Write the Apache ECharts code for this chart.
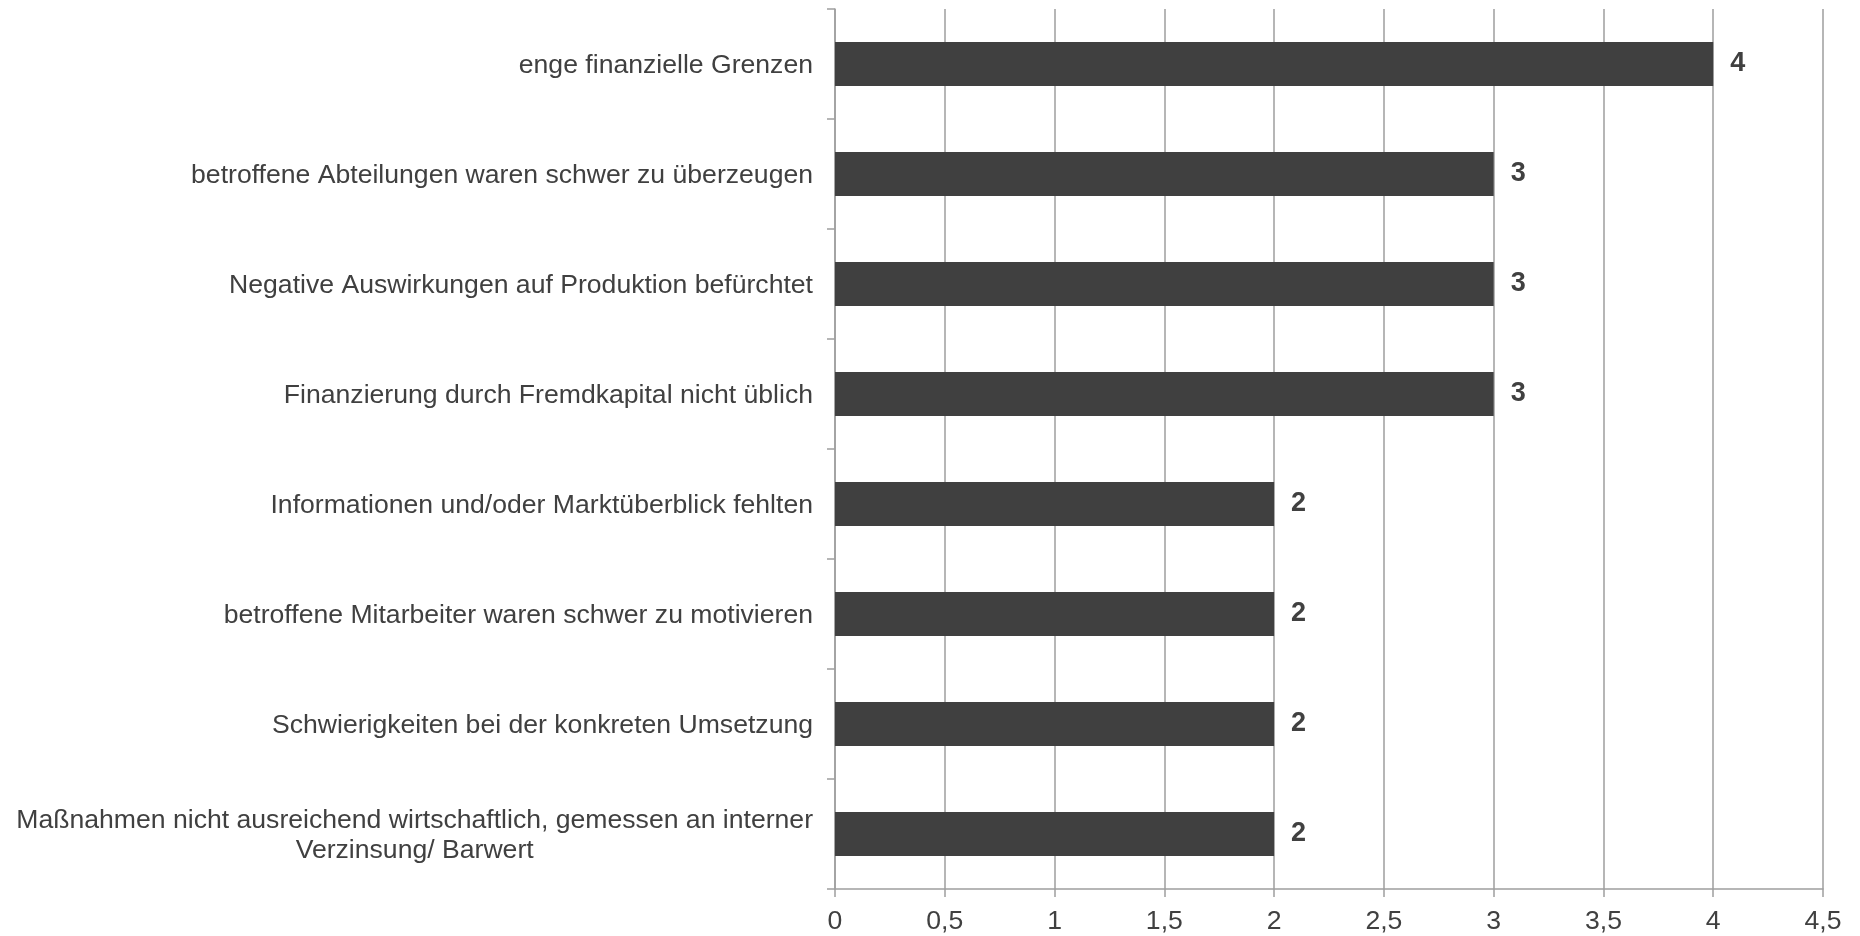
<!DOCTYPE html>
<html>
<head>
<meta charset="utf-8">
<script src="https://cdn.jsdelivr.net/npm/echarts@6/dist/echarts.min.js"></script>
<style>
html,body{margin:0;padding:0;background:#fff;}
#chart{width:1860px;height:936px;}
</style>
</head>
<body>
<div id="chart"></div>
<script>
const categories = [
  "enge finanzielle Grenzen",
  "betroffene Abteilungen waren schwer zu überzeugen",
  "Negative Auswirkungen auf Produktion befürchtet",
  "Finanzierung durch Fremdkapital nicht üblich",
  "Informationen und/oder Marktüberblick fehlten",
  "betroffene Mitarbeiter waren schwer zu motivieren",
  "Schwierigkeiten bei der konkreten Umsetzung",
  "Maßnahmen nicht ausreichend wirtschaftlich, gemessen an interner\nVerzinsung/ Barwert"
];
const values = [4, 3, 3, 3, 2, 2, 2, 2];
const axisMin = 0, axisMax = 4.5, axisStep = 0.5;

const lineColor = '#9e9e9e';
const textColor = '#404040';
const fontFamily = 'Liberation Sans, Arial, sans-serif';
const fs = 26.6;

const chart = echarts.init(document.getElementById('chart'));
chart.setOption({
  backgroundColor: '#ffffff',
  animation: false,
  grid: { left: 835, right: 37, top: 9, bottom: 47, containLabel: false },
  xAxis: {
    type: 'value',
    min: axisMin, max: axisMax, interval: axisStep,
    axisLine: { show: true, lineStyle: { color: lineColor, width: 1.5 } },
    axisTick: { show: true, length: 8, lineStyle: { color: lineColor, width: 1.5 } },
    splitLine: { show: true, lineStyle: { color: lineColor, width: 1.5 } },
    axisLabel: {
      margin: 19, color: textColor, fontSize: fs, fontFamily: fontFamily,
      formatter: v => String(v).replace('.', ',')
    }
  },
  yAxis: {
    type: 'category',
    data: categories,
    inverse: true,
    axisLine: { show: true, lineStyle: { color: lineColor, width: 1.5 } },
    axisTick: { show: true, length: 8, lineStyle: { color: lineColor, width: 1.5 } },
    splitLine: { show: false },
    axisLabel: {
      margin: 22, color: textColor, fontSize: fs, fontFamily: fontFamily,
      lineHeight: 30,
      formatter: v => v.split('\n').map(s => '{c|' + s + '}').join('\n'),
      rich: { c: { align: 'center', color: textColor, fontSize: fs, fontFamily: fontFamily, lineHeight: 30, padding: [3, 0, 0, 0] } }
    }
  },
  series: [{
    type: 'bar',
    data: values,
    barWidth: '40%',
    itemStyle: { color: '#404040' },
    label: {
      show: true, position: 'right', distance: 17,
      color: textColor, fontWeight: 'bold', fontSize: 27, fontFamily: fontFamily
    }
  }]
});
</script>
</body>
</html>
